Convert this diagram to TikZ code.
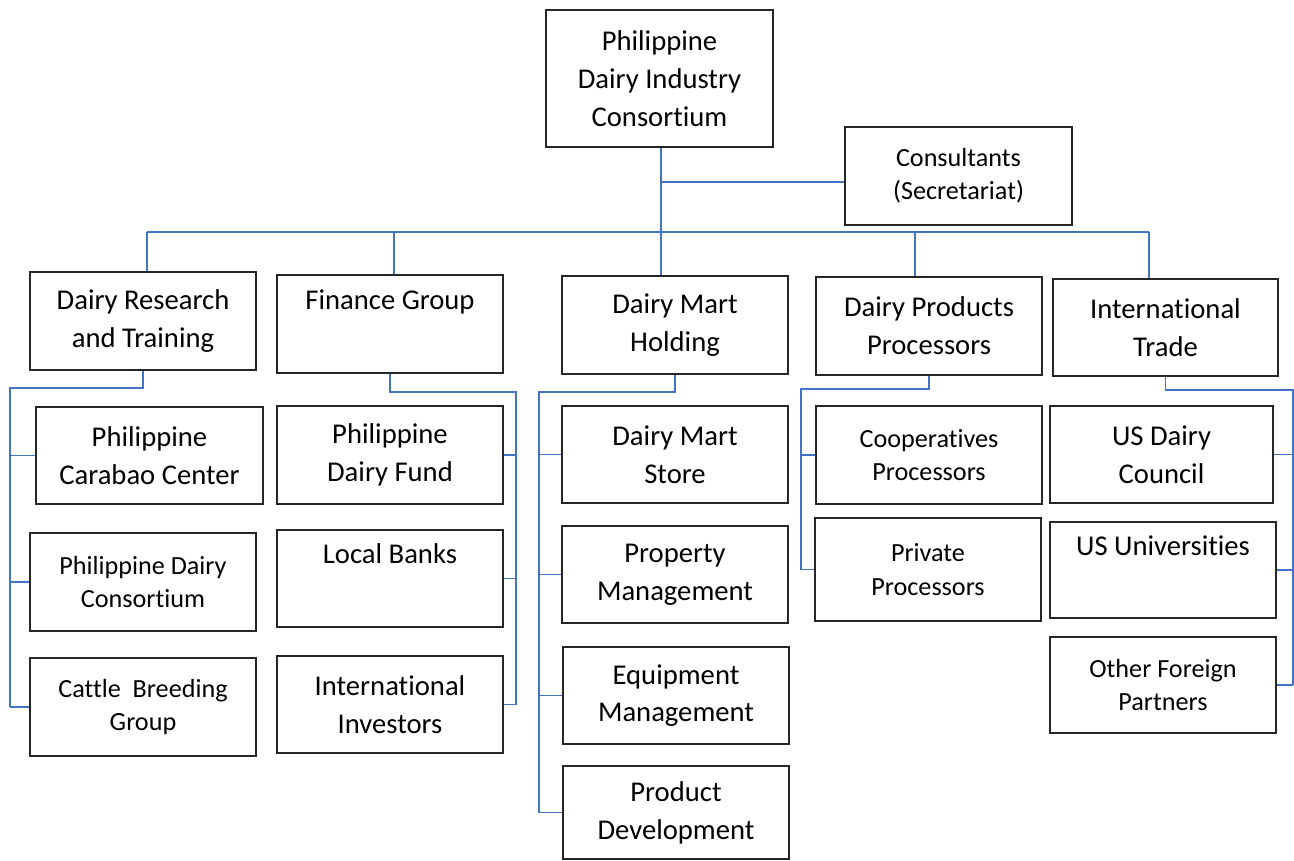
\documentclass[tikz,border=0pt]{standalone}
\usepackage{fontspec}
\setmainfont[Ligatures=NoCommon]{Carlito}
\definecolor{linkblue}{HTML}{4472C4}

\begin{document}
\begin{tikzpicture}[x=0.02cm, y=-0.02cm,
    box/.style={draw=black!85, line width=0.8pt, minimum width=4.52cm, minimum height=1.96cm,
      inner sep=0pt, align=center, font=\fontsize{16.3}{21.5}\selectfont},
    small/.style={font=\fontsize{14.9}{18.9}\selectfont},
    link/.style={draw=linkblue, line width=0.6pt}]
  \useasboundingbox (0,0) rectangle (1294,861);

  % head and secretariat
  \node[box, minimum width=4.54cm, minimum height=2.74cm] (pdic) at (659.5,78.5) {Philippine\\Dairy Industry\\Consortium};
  \node[box, small, minimum width=4.54cm] (cons) at (958.5,176) {Consultants\\(Secretariat)};

  % groups
  \node[box] (drt) at (143,321) {Dairy Research\\and Training};
  \node[box] (fin) at (390,324) {Finance Group\\\strut};
  \node[box] (dmh) at (675,325) {Dairy Mart\\Holding};
  \node[box] (dpp) at (929,326) {Dairy Products\\Processors};
  \node[box, minimum width=4.5cm, minimum height=1.94cm] (intl) at (1165.5,327.5) {International\\Trade};

  % members
  \node[box, minimum width=4.54cm, minimum height=1.94cm] (pcc) at (149.5,455.5) {Philippine\\Carabao Center};
  \node[box, small] (pdc) at (143,582) {Philippine Dairy\\Consortium};
  \node[box, small] (cbg) at (143,707) {Cattle \ Breeding\\Group};

  \node[box] (pdf) at (390,455) {Philippine\\Dairy Fund};
  \node[box, minimum height=1.94cm] (lb) at (390,578.5) {Local Banks\\\strut};
  \node[box, minimum height=1.94cm] (ii) at (390,704.5) {International\\Investors};

  \node[box, minimum height=1.94cm] (dms) at (675,454.5) {Dairy Mart\\Store};
  \node[box, minimum height=1.94cm] (pm) at (675,574.5) {Property\\Management};
  \node[box, minimum height=1.94cm] (em) at (676,695.5) {Equipment\\Management};
  \node[box, minimum height=1.86cm] (pd) at (676,812.5) {Product\\Development};

  \node[box, small] (cp) at (929,455) {Cooperatives\\Processors};
  \node[box, small, minimum height=2.06cm] (pp) at (928,569.5) {Private\\Processors};

  \node[box, minimum width=4.46cm, minimum height=1.94cm] (usdc) at (1161.5,454.5) {US Dairy\\Council};
  \node[box, minimum height=1.92cm] (usu) at (1163,570) {US Universities\\\strut};
  \node[box, small, minimum height=1.92cm] (ofp) at (1163,685) {Other Foreign\\Partners};

  % trunk and bus
  \coordinate (d1) at (147,232);
  \coordinate (d2) at (394,232);
  \coordinate (d4) at (915,232);
  \coordinate (d5) at (1149,232);
  \coordinate (c1) at (661,182);
  \draw[link] (c1 |- pdic.south) -- (c1 |- dmh.north);
  \draw[link] (c1) -- (c1 -| cons.west);
  \draw[link] (d1) -- (d5);
  \foreach \d/\n in {d1/drt, d2/fin, d4/dpp, d5/intl}
    \draw[link] (\d) -- (\d |- \n.north);

  % member branches
  \coordinate (s1) at (10,388);
  \coordinate (s2) at (516,392);
  \coordinate (s3) at (539,392);
  \coordinate (s4) at (801,389);
  \coordinate (s5) at (1293,390);
  \draw[link] (drt.south) |- (s1) -- (s1 |- cbg.west);
  \foreach \n in {pcc,pdc,cbg}
    \draw[link] (s1 |- \n.west) -- (\n.west);
  \draw[link] (fin.south) |- (s2) -- (s2 |- ii.east);
  \foreach \n in {pdf,lb,ii}
    \draw[link] (s2 |- \n.east) -- (\n.east);
  \draw[link] (dmh.south) |- (s3) -- (s3 |- pd.west);
  \foreach \n in {dms,pm,em,pd}
    \draw[link] (s3 |- \n.west) -- (\n.west);
  \draw[link] (dpp.south) |- (s4) -- (s4 |- pp.west);
  \foreach \n in {cp,pp}
    \draw[link] (s4 |- \n.west) -- (\n.west);
  \draw[link] (intl.south) |- (s5) -- (s5 |- ofp.east);
  \foreach \n in {usdc,usu,ofp}
    \draw[link] (s5 |- \n.east) -- (\n.east);
\end{tikzpicture}
\end{document}
